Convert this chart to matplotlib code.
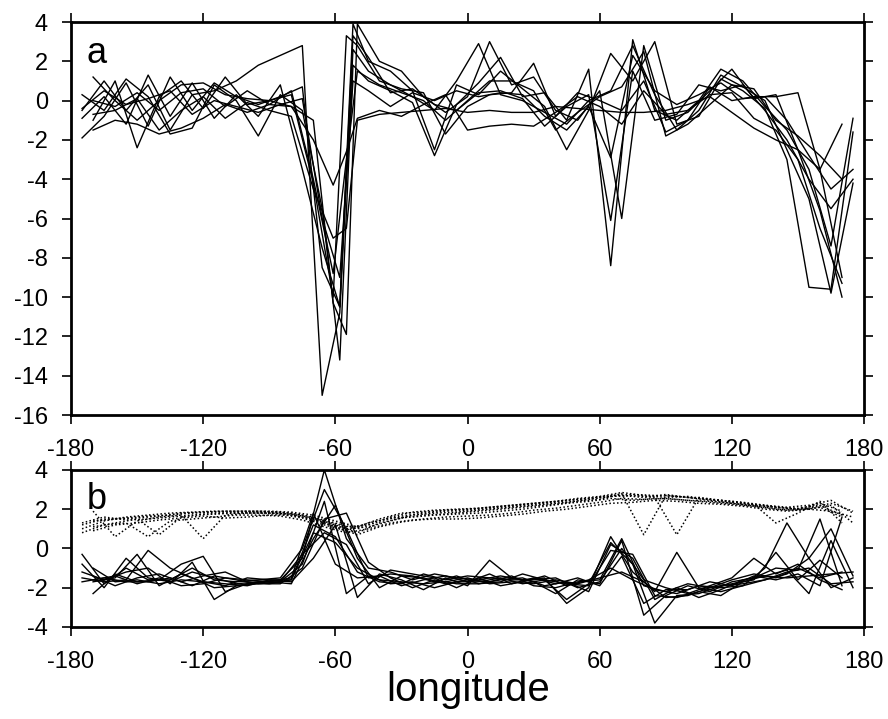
"""Two-panel longitude profiles: (a) anomaly curves, (b) solid + dotted curves."""

import numpy as np
import matplotlib
matplotlib.use("Agg")
import matplotlib.pyplot as plt

plt.rcParams["font.family"] = ["Liberation Sans", "DejaVu Sans"]
plt.rcParams["axes.unicode_minus"] = False

# sampling grids for panel a (denser around the -60 deg trough)
LON_TA = [-175, -165, -155, -145, -135, -125, -115, -105, -95, -85, -75, -66, -58, -52,
          -45, -35, -25, -15, -5, 5, 15, 25, 35, 45, 55, 65, 75, 85, 95, 105, 115, 125,
          135, 145, 155, 165, 175]
LON_TB = [-170, -160, -150, -140, -130, -120, -110, -100, -90, -80, -70, -61, -55, -50,
          -40, -30, -20, -10, 0, 10, 20, 30, 40, 50, 60, 70, 80, 90, 100, 110, 120, 130,
          140, 150, 160, 170]
# sampling grids for panel b
LON_A = list(range(-175, 176, 10))
LON_B = list(range(-170, 171, 10))

# --- panel a, curves on grid TA -------------------------------------------
A1 = [-0.5, 1.0, -0.5, 0.8, -1.5, 0.3, 0.5, 1.0, 1.8, 2.3, 2.8, -15.0, -10.8, 2.6, 1.5,
      0.8, 0.2, -0.5, 1.0, 2.9, 0.3, 0.0, -0.6, -1.2, 0.0, 0.5, 2.8, 0.3, -1.5, -0.5, 1.3,
      0.7, 0.0, -2.5, -5.0, -9.8, -4.2]
A2 = [-1.9, -0.8, 0.9, -1.3, 1.2, -0.5, 0.9, 0.2, -0.2, 0.2, 0.7, -8.5, -10.5, 3.9, 2.0,
      1.5, 0.5, -2.5, 0.8, 0.3, 1.5, 0.6, -0.3, -2.5, -0.5, 2.4, 1.0, 3.0, -1.2, -0.8, 1.1,
      0.5, -0.4, -3.0, -9.5, -9.6, -1.6]
A3 = [0.3, -0.5, 1.1, 0.2, -1.7, -1.4, 0.8, 0.0, -1.8, 0.3, -0.5, -5.5, -13.2, 1.8, 1.0,
      0.5, -0.1, -2.8, -0.2, 0.9, 2.2, 0.2, 0.4, -1.0, 1.6, -8.4, 3.1, -0.5, -1.0, 0.0, 1.6,
      1.0, -0.3, -1.5, -3.5, -7.4, -0.9]
A4 = [-0.9, 0.2, -1.2, 1.3, -0.8, 0.9, -0.9, 0.3, -0.8, 0.8, -3.5, -7.5, -10.5, 3.3, 2.2,
      0.4, 0.6, -0.2, -0.5, 0.4, 0.5, 0.1, -1.3, -0.3, 0.3, -6.1, 1.5, -1.0, -0.7, 0.8, 0.5,
      0.8, -0.5, -2.0, -4.0, -5.5, -4.0]
A5 = [-0.4, 0.5, -0.2, 0.1, 0.5, -0.7, 0.0, -0.3, -0.6, -0.2, 0.1, -6.0, -9.0, 1.0, 0.5,
      -0.3, 0.4, 0.0, 0.5, 0.2, 0.4, 0.3, -0.8, -1.5, -0.3, -2.9, 2.3, 0.5, -0.2, 0.3, 0.9,
      0.1, 0.2, -1.0, -2.8, -4.5, -3.5]
# --- panel a, curves on grid TB -------------------------------------------
B1 = [1.2, 0.0, -1.0, 0.0, 0.8, 0.9, 0.3, 0.1, 0.0, 0.3, -4.2, -10.0, 3.3, 2.8, 1.0, 0.6,
      0.4, -1.7, -0.3, 0.3, 0.4, 1.9, -0.8, 0.4, 0.0, -0.5, 1.0, -1.6, -1.0, 0.7, 0.0, 0.2,
      0.2, 0.4, -3.5, -9.0]
B2 = [-1.0, 1.0, -2.4, 0.2, 1.0, -0.4, 1.2, -0.2, 0.0, -0.3, -1.0, -10.3, -11.9, 3.9, 2.0,
      1.5, 0.2, -0.6, 0.2, 3.0, 0.8, 1.2, -0.5, -1.0, 0.5, -6.0, 2.8, -1.0, -0.6, 0.5, 1.6,
      0.1, 0.3, -2.5, -5.6, -10.0]
B3 = [0.0, -0.3, 0.4, -0.5, 0.4, 0.6, -0.3, 0.5, -0.2, 0.5, -4.0, -8.8, -3.0, 1.5, 0.8, 0.4,
      0.0, -1.0, 0.0, 1.0, 1.0, 0.5, -1.5, -0.6, 0.2, 0.7, 2.5, -1.8, -1.2, -0.2, 0.8, 0.6,
      -1.0, -1.8, -2.8, -4.0]
B4 = [-0.7, -0.5, 0.1, -1.5, -0.5, 0.2, -0.9, -0.1, -0.5, -0.8, -4.5, -7.0, -6.5, -1.0, -0.7,
      -0.6, -0.5, -0.4, -0.6, -0.5, -0.6, -0.6, -0.3, -0.4, -0.5, -0.6, -0.6, -0.5, -0.2, 0.2,
      -0.6, -1.4, -2.0, -2.5, -3.5, -1.2]
B5 = [-1.5, -1.0, -1.2, -1.7, -1.4, -0.9, -0.2, -0.6, -0.2, -0.3, -2.0, -4.3, -2.6, -0.9, -0.5,
      -0.8, -0.2, 0.3, -1.5, -1.3, -1.2, -1.3, -0.6, 0.2, -0.3, -1.2, 0.5, -0.7, -0.5, 0.3,
      0.4, -0.9, -1.5, -3.0, -6.5, -9.3]

# --- panel b, solid curves -------------------------------------------------
S1 = [-0.8, -2.0, -0.5, -1.5, -1.7, -1.2, -1.5, -1.8, -1.7, -1.6, -0.5, 4.0, 0.5, -1.0, -1.2,
      -1.6, -1.3, -1.5, -1.6, -1.4, -1.6, -1.5, -2.8, -2.0, 0.6, -1.2, -2.2, -0.2, -2.0, -2.2,
      -1.9, -1.0, 1.3, -0.5, -2.0, -1.5]
S2 = [-1.5, -1.7, -1.6, -0.1, -1.0, -1.5, -2.0, -1.9, -1.7, -1.7, -0.8, 2.4, -2.3, -1.4, -1.8,
      -1.7, -2.0, -1.7, -1.7, -1.5, -1.8, -1.6, -2.6, -1.8, 0.3, -0.8, -3.8, -2.4, -2.3, -1.9,
      -1.8, -1.6, -1.3, -0.5, 1.0, -1.4]
S3 = [-1.2, -1.6, -1.2, -1.0, -1.8, -0.7, -2.6, -1.9, -1.8, -1.8, -1.0, 1.5, 1.8, -0.7, -1.5,
      -2.0, -1.6, -1.8, -1.8, -1.6, -1.5, -1.9, -1.7, -2.2, 0.2, -0.5, -2.6, -2.0, -2.5, -2.1,
      -1.6, -1.4, -1.1, -2.3, 0.4, -2.0]
S4 = [-0.3, -1.8, -1.0, -1.6, -1.6, -1.0, -1.6, -1.7, -1.6, -1.5, 0.0, 3.0, 1.0, -1.5, -1.3,
      -1.4, -1.7, -1.4, -1.8, -1.7, -1.3, -1.6, -1.8, -1.9, -0.1, -0.3, -2.4, -2.5, -2.2, -2.4,
      -1.7, -1.4, -1.5, -1.4, -1.3, -1.2]
S5 = [-1.7, -1.5, -1.7, -1.7, -1.5, -1.9, -1.4, -1.6, -1.8, -1.7, -0.3, 0.8, 0.2, -1.8, -1.1,
      -1.3, -1.5, -2.0, -1.5, -1.9, -1.7, -1.4, -1.9, -1.6, -1.0, -1.6, -2.1, -2.3, -1.9, -2.0,
      -1.9, -1.6, -1.2, -1.0, -1.8, -1.7]
S6 = [-2.3, -1.3, -1.7, -1.6, -0.8, -0.4, -2.2, -1.8, -1.7, -1.8, 0.5, 2.2, -0.5, -2.0, -1.4,
      -1.5, -1.8, -1.6, -1.7, -1.4, -1.9, -2.0, -1.7, -1.6, 0.5, -1.9, -2.2, -1.8, -2.0, -1.8,
      -1.6, -0.2, -1.6, -0.6, -1.5]
S7 = [-1.7, -1.5, -0.3, -1.9, -1.3, -1.7, -1.9, -1.5, -1.6, -1.7, -0.5, 1.2, -2.5, -1.3, -1.6,
      -2.1, -1.5, -1.9, -0.6, -1.5, -1.7, -2.3, -1.6, -1.8, 0.4, -3.4, -2.4, -1.9, -2.2, -1.7,
      -1.5, -1.0, -1.1, 1.5, -1.9]
S8 = [-1.4, -1.9, -1.5, -1.3, -1.7, -1.4, -1.2, -1.7, -1.8, -1.6, 1.2, 0.6, -1.2, -1.7, -1.8,
      -1.3, -1.6, -1.4, -1.5, -1.6, -1.6, -1.5, -2.0, -1.7, 0.0, -1.6, -2.0, -2.3, -1.9, -1.5,
      -0.5, -1.3, -0.8, -1.6, -2.1]
S9 = [-1.6, -1.4, -1.8, -1.5, -1.9, -1.8, -1.5, -1.6, -1.7, -1.5, 1.8, -0.8, -1.5, -1.4, -1.9,
      -1.6, -1.4, -1.7, -1.3, -1.8, -1.5, -1.8, -1.5, -1.9, -0.4, -2.8, -2.1, -2.1, -1.7, -1.9,
      -1.4, -1.6, -1.3, -1.9, 1.6]
S10 = [-1.0, -1.7, -1.6, -1.8, -1.6, -1.7, -1.8, -1.9, -1.6, -1.6, 0.8, 0.3, -1.0, -1.6, -1.7,
       -1.8, -1.7, -1.5, -1.8, -1.7, -1.8, -1.6, -1.8, -1.5, -1.2, -1.7, -2.5, -2.4, -2.0, -1.6,
       -1.3, -1.5, -1.0, -1.5, -1.2]

# --- panel b, dotted curves ------------------------------------------------
D1 = [1.0, 1.4, 1.6, 1.7, 1.8, 1.85, 1.9, 1.9, 1.9, 1.85, 1.7, 1.4, 1.1, 1.2, 1.6, 1.85, 1.95,
      2.0, 2.05, 2.15, 2.25, 2.35, 2.45, 2.55, 2.7, 2.75, 2.7, 2.65, 2.55, 2.45, 2.35, 2.2,
      2.1, 2.2, 2.45, 1.8]
D2 = [0.8, 1.2, 1.3, 0.6, 1.4, 1.5, 1.6, 1.7, 1.7, 1.65, 1.45, 1.1, 0.8, 1.0, 1.3, 1.45, 1.5,
      1.5, 1.55, 1.65, 1.75, 1.9, 2.0, 2.15, 2.3, 2.35, 2.45, 2.4, 2.3, 2.25, 2.15, 2.0, 1.9,
      2.0, 2.2, 1.3]
D3 = [1.2, 1.5, 1.55, 1.65, 1.7, 1.8, 1.85, 1.85, 1.85, 1.8, 1.6, 1.3, 1.0, 1.1, 1.4, 1.7, 1.8,
      1.85, 1.95, 2.05, 2.15, 2.25, 2.35, 2.5, 2.65, 2.7, 2.6, 0.7, 2.6, 2.45, 2.3, 2.2, 2.05,
      2.0, 1.9, 1.6]
D4 = [1.3, 1.6, 1.45, 1.5, 1.6, 1.7, 1.75, 1.8, 1.8, 1.75, 1.55, 1.2, 0.9, 1.3, 1.55, 1.6, 1.7,
      1.75, 1.8, 1.9, 2.0, 2.15, 2.3, 2.4, 2.55, 2.45, 2.55, 2.5, 2.4, 2.3, 2.2, 2.1, 1.95,
      2.05, 2.3, 1.9]
D5 = [1.9, 0.6, 1.4, 1.6, 1.7, 0.5, 1.7, 1.8, 1.8, 1.75, 1.55, 1.2, 0.8, 1.3, 1.55, 1.7, 1.75,
      1.85, 1.95, 2.05, 2.15, 2.25, 2.4, 2.5, 2.8, 0.7, 2.7, 2.6, 2.45, 2.3, 2.2, 2.1, 2.0, 2.3,
      1.9]
D6 = [1.1, 1.3, 1.5, 0.7, 1.6, 1.75, 1.8, 1.85, 1.85, 1.8, 1.6, 1.3, 1.0, 1.4, 1.65, 1.8, 1.9,
      1.95, 2.05, 2.15, 2.25, 2.35, 2.5, 2.6, 2.7, 2.6, 2.75, 2.6, 2.5, 2.35, 2.25, 1.3, 1.8,
      2.4, 1.3]
D7 = [1.4, 1.5, 1.55, 1.65, 1.8, 1.85, 1.9, 1.9, 1.9, 1.85, 1.7, 1.4, 1.1, 1.5, 1.8, 1.85,
      1.95, 2.0, 2.1, 2.2, 2.3, 2.4, 2.55, 2.65, 2.85, 2.7, 2.6, 2.65, 2.5, 2.4, 2.25, 2.1,
      2.05, 2.2, 1.7]
D8 = [0.9, 1.2, 1.3, 1.45, 1.55, 1.65, 1.55, 1.6, 1.7, 1.7, 1.5, 1.1, 0.7, 1.1, 1.35, 1.5,
      1.6, 1.65, 1.7, 1.8, 1.95, 2.05, 2.2, 2.35, 2.55, 2.5, 2.55, 2.45, 2.4, 2.3, 2.15, 2.0,
      1.95, 2.1, 1.6]

TOP_A = [A1, A2, A3, A4, A5]
TOP_B = [B1, B2, B3, B4, B5]
SOLID_A = [S1, S2, S3, S4, S5]
SOLID_B = [S6, S7, S8, S9, S10]
DOT_A = [D1, D2, D3, D4]
DOT_B = [D5, D6, D7, D8]

XTICKS = [-180, -120, -60, 0, 60, 120, 180]


def style(ax, ylim, yticks):
    ax.set_xlim(-180, 180)
    ax.set_ylim(*ylim)
    ax.set_xticks(XTICKS)
    ax.set_yticks(yticks)
    ax.tick_params(direction="out", length=6.5, width=1.2, labelsize=17,
                   top=True, right=True, labelright=False, labeltop=False)
    ax.tick_params(axis="x", pad=11)
    ax.tick_params(axis="y", pad=10)
    for s in ax.spines.values():
        s.set_linewidth(2.0)


fig = plt.figure(figsize=(8.88, 7.19), dpi=100)
ax1 = fig.add_axes([0.080, 0.4228, 0.893, 0.5466])
ax2 = fig.add_axes([0.080, 0.128, 0.893, 0.2184])

lw = 1.0
for y in TOP_A:
    ax1.plot(LON_TA, y, c="k", lw=lw)
for y in TOP_B:
    ax1.plot(LON_TB, y, c="k", lw=lw)
style(ax1, (-16, 4), np.arange(-16, 5, 2))
ax1.text(-173, 1.9, "a", fontsize=26, va="baseline")

for y in DOT_A:
    ax2.plot(LON_A, y, c="k", lw=1.1, ls=(0, (1, 1.5)))
for y in DOT_B:
    ax2.plot(LON_B, y, c="k", lw=1.1, ls=(0, (1, 1.5)))
for y in SOLID_A:
    ax2.plot(LON_A, y, c="k", lw=lw)
for y in SOLID_B:
    ax2.plot(LON_B, y, c="k", lw=lw)
style(ax2, (-4, 4), [-4, -2, 0, 2, 4])
ax2.text(-173, 2.0, "b", fontsize=26, va="baseline")

fig.text(0.527, 0.04, "longitude", fontsize=29, ha="center", va="center")

fig.savefig("out.png", dpi=100)
